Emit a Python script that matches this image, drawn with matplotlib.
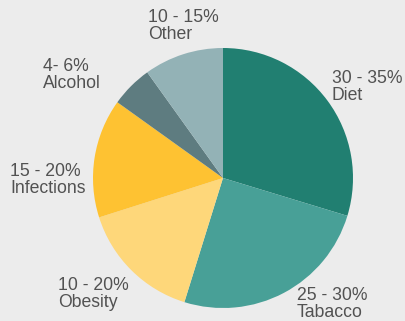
import matplotlib.pyplot as plt

# shares of cancer causes
causes = ['Diet', 'Tabacco', 'Obesity', 'Infections', 'Alcohol', 'Other']
ranges = ['30 - 35%', '25 - 30%', '10 - 20%', '15 - 20%', '4- 6%', '10 - 15%']
shares = [29.7, 25.1, 15.3, 14.8, 5.2, 9.9]
colors = ['#217f71', '#48a097', '#fed77a', '#fec232', '#5e7c80', '#93b2b6']

# label anchors (top-left corner, pixels in the 406x321 picture)
label_px = [(332, 70), (297, 287), (58, 277), (10, 163), (43, 58), (148, 9)]

W, H = 406, 321
cx, cy, r = 223, 178, 130

plt.rcParams['font.family'] = ['Liberation Sans', 'DejaVu Sans']
fig = plt.figure(figsize=(W / 100, H / 100), dpi=100, facecolor='#ececec')
ax = fig.add_axes([0, 0, 1, 1])
ax.set_facecolor('#ececec')

ax.pie(shares, colors=colors, startangle=90, counterclock=False,
       radius=1, center=(0, 0), wedgeprops=dict(linewidth=0))

ax.set_xlim(-cx / r, (W - cx) / r)
ax.set_ylim(-(H - cy) / r, cy / r)
ax.set_aspect('equal')
ax.axis('off')

for name, rng, (px, py) in zip(causes, ranges, label_px):
    ax.text((px - cx) / r, (cy - py) / r, rng + '\n' + name,
            ha='left', va='top', fontsize=12.7, color='#525252', linespacing=1.0)

fig.savefig('out.png', dpi=100, facecolor=fig.get_facecolor())
